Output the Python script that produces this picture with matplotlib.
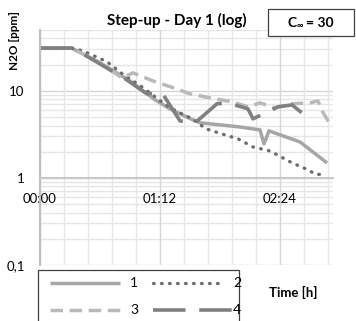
import numpy as np
import matplotlib
matplotlib.use("Agg")
import matplotlib.pyplot as plt
from matplotlib.ticker import MultipleLocator, LogLocator, NullFormatter, FixedLocator, FixedFormatter
from matplotlib.lines import Line2D
from matplotlib.patches import Rectangle

plt.rcParams['font.family'] = ['Lato', 'DejaVu Sans']

# time in minutes, N2O in ppm
s1_t = [0, 19, 36, 54, 69, 78, 90, 96, 120, 132, 134.4, 137.4, 156, 172.2]
s1_v = [31, 31, 21.0, 13.0, 7.9, 6.2, 4.8, 4.3, 3.85, 3.56, 2.46, 3.47, 2.59, 1.49]

s2_t = [0, 19, 25.8, 40.2, 48.6, 61.2, 73.8, 78, 86.4, 91.2, 99.6, 109.2, 118.8, 127.8, 138, 151.2, 160.8, 165, 171.6]
s2_v = [31, 31, 28.8, 21.6, 16.1, 11.1, 7.3, 6.4, 5.3, 4.8, 3.66, 3.2, 2.81, 2.27, 2.04, 1.49, 1.24, 1.11, 1.08]

s3_t = [0, 19, 36, 49.2, 55.8, 67.8, 82.2, 90, 102, 115.2, 124.8, 132, 141, 150, 162, 166.8, 169.2, 174]
s3_v = [31, 31, 21, 14.1, 16.1, 13.0, 10.5, 9.24, 8.31, 7.49, 6.55, 7.28, 6.38, 7.1, 7.28, 7.67, 5.89, 4.17]

s4_t = [0, 19, 25.8, 45, 51, 64.2, 73.2, 84, 93, 106.2, 112.8, 124.8, 127.8, 142.8, 151.2, 157.2]
s4_v = [31, 31, 26.6, 16.1, 13.8, 9.24, 9.5, 4.52, 4.29, 7.1, 7.28, 6.21, 4.77, 6.55, 6.9, 5.58]

labels = ['1', '2', '3', '4']
x_ticks = [0, 72, 144]
x_ticklabels = ['00:00', '01:12', '02:24']
y_ticks = [0.1, 1, 10]
y_ticklabels = ['0,1', '1', '10']

W, H = 356, 321
def fx(px):
    return px / W
def fy(py):
    return 1 - py / H

styles = [
    dict(color='#a6a6a6', lw=2.5, ls='-', solid_capstyle='butt'),
    dict(color='#6e6e6e', lw=2.4, dashes=(0.2, 2.2), dash_capstyle='round'),
    dict(color='#b9b9b9', lw=2.5, dashes=(3.6, 1.9)),
    dict(color='#808080', lw=2.6, dashes=(9.0, 3.8)),
]

fig = plt.figure(figsize=(W / 100, H / 100), dpi=100)
ax = fig.add_axes([fx(40), fy(265), 293 / W, 235 / H])

series = [(s1_t, s1_v), (s2_t, s2_v), (s3_t, s3_v), (s4_t, s4_v)]
for (t, v), st in zip(series, styles):
    ax.plot(t, v, **st)

ax.set_yscale('log')
ax.set_ylim(0.1, 50)
ax.set_xlim(0, 175.8)

ax.xaxis.set_major_locator(FixedLocator(x_ticks))
ax.xaxis.set_major_formatter(FixedFormatter(x_ticklabels))
ax.xaxis.set_minor_locator(MultipleLocator(14.4))
ax.yaxis.set_major_locator(FixedLocator(y_ticks))
ax.yaxis.set_major_formatter(FixedFormatter(y_ticklabels))
ax.yaxis.set_minor_locator(LogLocator(base=10, subs=np.arange(2, 10)))
ax.yaxis.set_minor_formatter(NullFormatter())

ax.grid(which='major', color='#d6d6d6', lw=1.0)
ax.grid(which='minor', color='#e6e6e6', lw=1.0)
ax.set_axisbelow(True)
ax.xaxis.set_zorder(0.6)  # x labels drawn above the horizontal grid

ax.tick_params(which='both', length=0)
ax.tick_params(axis='x', pad=11, labelsize=9.5)
ax.tick_params(axis='y', pad=11, labelsize=9.5)
for lbl in ax.get_xticklabels():
    lbl.set_bbox(dict(facecolor='white', edgecolor='none', pad=0.5))

for s in ['top', 'right']:
    ax.spines[s].set_visible(False)
ax.spines['bottom'].set_position(('data', 1))
ax.spines['bottom'].set_color('#c8c8c8')
ax.spines['bottom'].set_linewidth(1.5)
ax.spines['left'].set_color('#bfbfbf')
ax.spines['left'].set_linewidth(1.5)

# titles and labels
fig.text(fx(177), fy(20), 'Step-up - Day 1 (log)', ha='center', va='center',
         fontsize=11, fontweight='bold')
fig.text(fx(15), fy(41), 'N2O [ppm]', ha='center', va='center', rotation=90,
         fontsize=8.5, fontweight='bold')
fig.text(fx(293), fy(292), 'Time [h]', ha='center', va='center',
         fontsize=9.5, fontweight='bold')

# C-infinity box
fig.patches.append(Rectangle((fx(268), fy(36)), 86 / W, 27 / H, transform=fig.transFigure,
                             facecolor='white', edgecolor='#404040', lw=0.9))
fig.text(fx(288), fy(27), 'C', ha='left', va='baseline', fontsize=10, fontweight='bold')
fig.text(fx(296.5), fy(27), '\u221e', ha='left', va='baseline', fontsize=6.5, fontweight='bold')
fig.text(fx(306), fy(27), '= 30', ha='left', va='baseline', fontsize=10, fontweight='bold')

# legend drawn by hand
fig.patches.append(Rectangle((fx(38), fy(330)), 201 / W, 60 / H, transform=fig.transFigure,
                             facecolor='white', edgecolor='#404040', lw=0.9))
leg_pos = [(50, 120, 283), (153, 219, 283), (50, 125, 310), (153, 232, 310)]
text_x = [130, 233, 130, 233]
for (x0, x1, yy), st, lab, tx in zip(leg_pos, styles, labels, text_x):
    fig.lines.append(Line2D([fx(x0), fx(x1)], [fy(yy), fy(yy)], transform=fig.transFigure, **st))
    fig.text(fx(tx), fy(yy), lab, ha='left', va='center', fontsize=10)

fig.savefig('out.png', dpi=100)
